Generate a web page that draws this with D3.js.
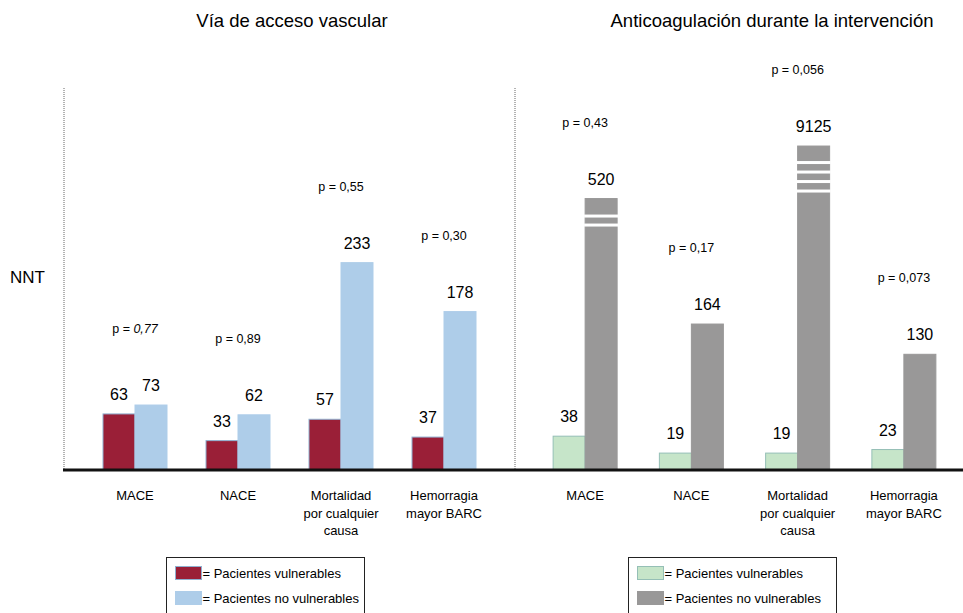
<!DOCTYPE html>
<html>
<head>
<meta charset="utf-8">
<script src="https://cdn.jsdelivr.net/npm/d3@7"></script>
<style>
  body { margin: 0; background: #fff; }
  svg { font-family: "Liberation Sans", Arial, sans-serif; }
</style>
</head>
<body>
<svg id="chart" width="963" height="613"></svg>
<script>
// data
const categories = [["MACE"], ["NACE"], ["Mortalidad", "por cualquier", "causa"], ["Hemorragia", "mayor BARC"]];
const accesoVulnerables = [63, 33, 57, 37];
const accesoNoVulnerables = [73, 62, 233, 178];
const accesoP = ["0,77", "0,89", "0,55", "0,30"];
const antiVulnerables = [38, 19, 19, 23];
const antiNoVulnerables = [520, 164, 9125, 130];
const antiP = ["0,43", "0,17", "0,056", "0,073"];
// broken bars: height shown (in NNT units) and number of cuts
const antiShownAs = [305, null, 364, null];
const antiBreaks = [2, 0, 4, 0];

const svg = d3.select("#chart");
const baseY = 470;

const y = d3.scaleLinear().domain([0, 400]).range([baseY, baseY - 356]);
const sub = d3.scaleBand().domain(["v", "nv"]).range([-32, 32]);

const panels = [
  {title: "Vía de acceso vascular", titleX: 292, range: [83.5, 495.5],
   v: accesoVulnerables, nv: accesoNoVulnerables, p: accesoP, shown: [null, null, null, null], breaks: [0, 0, 0, 0],
   colV: "#9a1f37", colNV: "#aecde9", strokeV: "#8fb0d0", strokeNV: "#aecde9", italic: 0},
  {title: "Anticoagulación durante la intervención", titleX: 772, range: [532, 957],
   v: antiVulnerables, nv: antiNoVulnerables, p: antiP, shown: antiShownAs, breaks: antiBreaks,
   colV: "#c6e5c9", colNV: "#999898", strokeV: "#95bfb6", strokeNV: "#999898", italic: -1}
];

// dotted separators
[64, 515].forEach(xx => {
  svg.append("line")
    .attr("x1", xx).attr("x2", xx).attr("y1", 88).attr("y2", baseY)
    .attr("stroke", "#666").attr("stroke-width", 1).attr("stroke-dasharray", "1,1");
});

svg.append("text").attr("x", 10).attr("y", 283).attr("font-size", 17).text("NNT");

panels.forEach(pn => {
  const x = d3.scaleBand().domain(d3.range(4)).range(pn.range);
  const cx = i => x(i) + x.bandwidth() / 2;

  svg.append("text")
    .attr("x", pn.titleX).attr("y", 27)
    .attr("text-anchor", "middle").attr("font-size", 18.5)
    .text(pn.title);

  const g = svg.append("g");
  const rows = d3.range(4).map(i => ({
    i, v: pn.v[i], nv: pn.nv[i], p: pn.p[i],
    nvShown: pn.shown[i] == null ? pn.nv[i] : pn.shown[i], br: pn.breaks[i]
  }));

  // vulnerable bars
  g.selectAll("rect.v").data(rows).join("rect")
    .attr("x", d => cx(d.i) + sub("v"))
    .attr("y", d => y(d.v))
    .attr("width", sub.bandwidth())
    .attr("height", d => y(0) - y(d.v))
    .attr("fill", pn.colV).attr("stroke", pn.strokeV).attr("stroke-width", 1);

  // non-vulnerable bars
  g.selectAll("rect.nv").data(rows).join("rect")
    .attr("x", d => cx(d.i) + sub("nv"))
    .attr("y", d => y(d.nvShown))
    .attr("width", sub.bandwidth())
    .attr("height", d => y(0) - y(d.nvShown))
    .attr("fill", pn.colNV).attr("stroke", pn.strokeNV).attr("stroke-width", 1);

  // break marks
  rows.filter(d => d.br > 0).forEach(d => {
    const top = y(d.nvShown);
    const start = d.br > 2 ? 15 : 16;
    const gap = d.br > 2 ? 9.5 : 9;
    for (let k = 0; k < d.br; k++) {
      g.append("rect")
        .attr("x", cx(d.i) + sub("nv") - 1)
        .attr("y", top + start + k * gap)
        .attr("width", sub.bandwidth() + 2)
        .attr("height", 3)
        .attr("fill", "#fff");
    }
  });

  // value labels
  g.selectAll("text.vl").data(rows).join("text")
    .attr("x", d => cx(d.i) + sub("v") + sub.bandwidth() / 2)
    .attr("y", d => y(d.v) - 14)
    .attr("text-anchor", "middle").attr("font-size", 16)
    .text(d => d.v);
  g.selectAll("text.nvl").data(rows).join("text")
    .attr("x", d => cx(d.i) + sub("nv") + sub.bandwidth() / 2)
    .attr("y", d => y(d.nvShown) - 14)
    .attr("text-anchor", "middle").attr("font-size", 16)
    .text(d => d.nv);

  // p values
  const pt = g.selectAll("text.p").data(rows).join("text")
    .attr("x", d => cx(d.i))
    .attr("y", d => y(d.nvShown) - 72)
    .attr("text-anchor", "middle").attr("font-size", 12.5);
  pt.append("tspan").text("p = ");
  pt.append("tspan")
    .attr("font-style", d => (pn.italic === 0 && d.i === 0) ? "italic" : null)
    .text(d => d.p);

  // category labels
  g.selectAll("text.cat").data(rows).join("text")
    .attr("text-anchor", "middle").attr("font-size", 13)
    .attr("x", d => cx(d.i)).attr("y", 500)
    .selectAll("tspan").data(d => categories[d.i].map(t => ({t, x: cx(d.i)})))
    .join("tspan")
    .attr("x", t => t.x).attr("dy", (t, j) => j === 0 ? 0 : 17.5)
    .text(t => t.t);
});

// baseline
svg.append("line")
  .attr("x1", 63).attr("x2", 963).attr("y1", baseY).attr("y2", baseY)
  .attr("stroke", "#111").attr("stroke-width", 3);

// legends
const legends = [
  {x: 166.5, w: 198, cols: ["#9a1f37", "#aecde9"], strokes: ["#8fb0d0", "#aecde9"]},
  {x: 628.5, w: 208, cols: ["#c6e5c9", "#999898"], strokes: ["#95bfb6", "#999898"]}
];
const legendLabels = ["= Pacientes vulnerables", "= Pacientes no vulnerables"];
legends.forEach(lg => {
  const g = svg.append("g").attr("transform", `translate(${lg.x},557.5)`);
  g.append("rect").attr("width", lg.w).attr("height", 70)
    .attr("fill", "#fff").attr("stroke", "#222").attr("stroke-width", 1);
  legendLabels.forEach((t, k) => {
    g.append("rect").attr("x", 9).attr("y", 9 + k * 25).attr("width", 26).attr("height", 13)
      .attr("fill", lg.cols[k]).attr("stroke", lg.strokes[k]);
    g.append("text").attr("x", 36).attr("y", 20 + k * 25).attr("font-size", 13).text(t);
  });
});
</script>
</body>
</html>
